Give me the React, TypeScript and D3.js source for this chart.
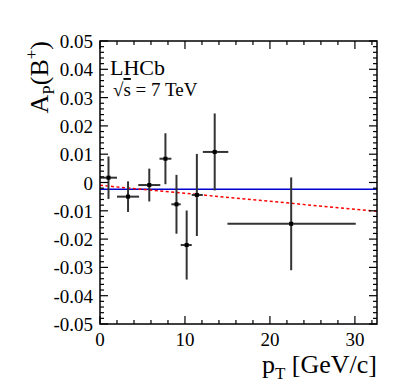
import React from 'react';
import * as d3 from 'd3';

// pT bins [GeV/c] and measured asymmetry A_P(B+)
const ptCenter = [1.0, 3.3, 5.8, 7.7, 9.0, 10.2, 11.4, 13.5, 22.5];
const ptLow = [0.0, 2.0, 4.5, 7.0, 8.4, 9.5, 10.8, 12.1, 15.0];
const ptHigh = [2.0, 4.6, 7.1, 8.4, 9.5, 10.8, 12.1, 15.1, 30.1];
const asym = [0.0017, -0.005, -0.0009, 0.0084, -0.0077, -0.0221, -0.0044, 0.0108, -0.0146];
const asymErr = [0.0075, 0.0054, 0.0058, 0.009, 0.0104, 0.0122, 0.0145, 0.0136, 0.0164];

// fits: constant (blue) and linear (red dashed)
const constFit = -0.0024;
const linFitX = [0, 32.6];
const linFitY = [-0.001, -0.0102];

const xTickLabels = [0, 10, 20, 30];
const yTickLabels = [-0.05, -0.04, -0.03, -0.02, -0.01, 0, 0.01, 0.02, 0.03, 0.04, 0.05];

const W = 399, H = 388;
const m = { left: 100, right: 377, top: 41, bottom: 324 };
const font = "'Liberation Serif', 'Times New Roman', serif";

export default function App() {
  const x = d3.scaleLinear().domain([0, 32.6]).range([m.left, m.right]);
  const y = d3.scaleLinear().domain([-0.05, 0.05]).range([m.bottom, m.top]);

  const xMinor = d3.range(0, 32.7, 2);
  const yMinor = d3.range(-50, 51, 2).map(v => v / 1000);
  const isMajorX = (v: number) => Math.abs(v % 10) < 1e-6;
  const isMajorY = (v: number) => Math.abs(Math.round(v * 1000) % 10) === 0;

  const line = d3.line<number>().x((_, i) => x(linFitX[i])).y(d => y(d));

  return (
    <svg width={W} height={H} style={{ position: 'absolute', left: 0, top: 0, background: '#fff', fontFamily: font }}>
      {/* fits */}
      <line x1={m.left} x2={m.right} y1={y(constFit)} y2={y(constFit)} stroke="#0000cc" strokeWidth={1.5} />
      <path d={line(linFitY) || ''} fill="none" stroke="#ff0000" strokeWidth={1.5} strokeDasharray="3,2.5" />

      {/* data */}
      {asym.map((v, i) => (
        <g key={i} stroke="#333" strokeWidth={2}>
          <line x1={x(ptLow[i])} x2={x(ptHigh[i])} y1={y(v)} y2={y(v)} />
          <line x1={x(ptCenter[i])} x2={x(ptCenter[i])} y1={y(v + asymErr[i])} y2={y(v - asymErr[i])} />
          <rect x={x(ptCenter[i]) - 2} y={y(v) - 2} width={4} height={4} fill="#000" stroke="none" />
        </g>
      ))}

      {/* frame */}
      <rect x={m.left} y={m.top} width={m.right - m.left} height={m.bottom - m.top}
            fill="none" stroke="#000" strokeWidth={1.5} />

      {/* x ticks */}
      {xMinor.map(v => {
        const len = isMajorX(v) ? 8 : 4;
        return (
          <g key={'x' + v} stroke="#000" strokeWidth={1.2}>
            <line x1={x(v)} x2={x(v)} y1={m.bottom} y2={m.bottom - len} />
            <line x1={x(v)} x2={x(v)} y1={m.top} y2={m.top + len} />
          </g>
        );
      })}
      {/* y ticks */}
      {yMinor.map(v => {
        const len = isMajorY(v) ? 8 : 4;
        return (
          <g key={'y' + v} stroke="#000" strokeWidth={1.2}>
            <line x1={m.left} x2={m.left + len} y1={y(v)} y2={y(v)} />
            <line x1={m.right} x2={m.right - len} y1={y(v)} y2={y(v)} />
          </g>
        );
      })}

      {/* tick labels */}
      {xTickLabels.map(v => (
        <text key={'xl' + v} x={x(v)} y={346} textAnchor="middle" fontSize={19}>{v}</text>
      ))}
      {yTickLabels.map(v => (
        <text key={'yl' + v} x={93} y={y(v) + 7} textAnchor="end" fontSize={19}>
          {v === 0 ? '0' : v.toFixed(2)}
        </text>
      ))}

      {/* axis titles */}
      <text x={m.right} y={373} textAnchor="end" fontSize={26}>
        p<tspan fontSize={17} dy={6}>T</tspan><tspan dy={-6}> [GeV/c]</tspan>
      </text>
      <text transform={`translate(48,${m.top}) rotate(-90)`} textAnchor="end" fontSize={26}>
        A<tspan fontSize={17} dy={6}>P</tspan><tspan dy={-6}>(B</tspan>
        <tspan fontSize={17} dy={-11}>+</tspan><tspan dy={11}>)</tspan>
      </text>

      {/* labels */}
      <text x={110} y={75} fontSize={22}>LHCb</text>
      <text x={113} y={96} fontSize={19}>
        √<tspan style={{ textDecoration: 'overline' }}>s</tspan> = 7 TeV
      </text>
    </svg>
  );
}
